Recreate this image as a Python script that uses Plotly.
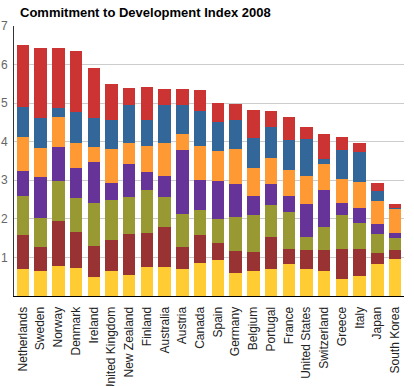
import plotly.graph_objects as go

countries = ["Netherlands", "Sweden", "Norway", "Denmark", "Ireland", "United Kingdom",
             "New Zealand", "Finland", "Australia", "Austria", "Canada", "Spain",
             "Germany", "Belgium", "Portugal", "France", "United States", "Switzerland",
             "Greece", "Italy", "Japan", "South Korea"]

comp1 = [0.71, 0.64, 0.78, 0.73, 0.48, 0.64, 0.55, 0.76, 0.74, 0.71, 0.85, 0.94,
         0.60, 0.64, 0.69, 0.84, 0.69, 0.66, 0.43, 0.53, 0.82, 0.95]
comp2 = [0.86, 0.62, 1.17, 0.94, 0.82, 0.82, 1.07, 0.87, 1.04, 0.57, 0.74, 0.44,
         0.57, 0.51, 0.85, 0.39, 0.49, 0.52, 0.78, 0.70, 0.29, 0.23]
comp3 = [1.01, 0.75, 1.04, 0.88, 1.10, 1.03, 0.94, 1.11, 0.78, 0.85, 0.65, 0.61,
         0.89, 0.96, 0.81, 0.94, 0.34, 0.62, 0.88, 0.66, 0.50, 0.32]
comp4 = [0.66, 1.07, 0.88, 0.78, 1.07, 0.43, 0.85, 0.47, 0.56, 1.65, 0.78, 1.00,
         0.85, 0.49, 0.56, 0.42, 0.87, 0.94, 0.32, 0.39, 0.26, 0.13]
comp5 = [0.87, 0.75, 0.78, 0.64, 0.39, 0.89, 0.55, 0.67, 0.84, 0.42, 0.86, 0.76,
         0.89, 0.73, 0.68, 0.68, 0.72, 0.69, 0.63, 0.67, 0.59, 0.64]
comp6 = [0.80, 0.78, 0.22, 0.79, 0.75, 0.76, 0.98, 0.68, 0.98, 0.75, 0.92, 0.77,
         0.77, 0.77, 0.78, 0.77, 0.97, 0.13, 0.75, 0.78, 0.26, 0.01]
comp7 = [1.61, 1.82, 1.56, 1.60, 1.30, 0.92, 0.46, 0.85, 0.43, 0.41, 0.54, 0.49,
         0.41, 0.73, 0.42, 0.59, 0.29, 0.63, 0.34, 0.23, 0.21, 0.11]

series_names = ["Aid", "Trade", "Investment", "Migration", "Environment", "Security", "Technology"]
series_values = [comp1, comp2, comp3, comp4, comp5, comp6, comp7]
colors = ["#FFCC33", "#993333", "#999933", "#663399", "#FF9933", "#336699", "#CC3333"]

fig = go.Figure()
for name, vals, col in zip(series_names, series_values, colors):
    fig.add_trace(go.Bar(x=countries, y=vals, name=name, marker=dict(color=col, line=dict(width=0))))

fig.update_layout(
    barmode="stack",
    bargap=0.3,
    width=414, height=386,
    margin=dict(l=14, r=10, t=26, b=90, autoexpand=False),
    paper_bgcolor="white", plot_bgcolor="white",
    showlegend=False,
    font=dict(family="Liberation Sans, Arial, sans-serif", size=12, color="#222"),
    title=dict(text="<b>Commitment to Development Index 2008</b>", xref="container",
               x=20/414, xanchor="left", y=1 - 12/386, yanchor="middle",
               font=dict(size=13, color="#000")),
)
fig.update_yaxes(range=[0, 7], dtick=1, showgrid=True, gridcolor="#cccccc", gridwidth=1,
                 showline=True, linecolor="#333", linewidth=1, ticks="", zeroline=False,
                 tickfont=dict(color="#666", size=12), ticklabelstandoff=3,
                 ticklabeloverflow="allow",
                 tickvals=[1, 2, 3, 4, 5, 6, 7], automargin=False)
fig.update_xaxes(showline=True, linecolor="#000", linewidth=1, ticks="", tickangle=-90,
                 tickfont=dict(color="#222", size=12), ticklabelstandoff=5,
                 ticklabeloverflow="allow", automargin=False)

fig.write_html("out.html", config={"displayModeBar": False},
               post_script="document.body.style.margin='0';document.body.style.overflow='hidden';")
